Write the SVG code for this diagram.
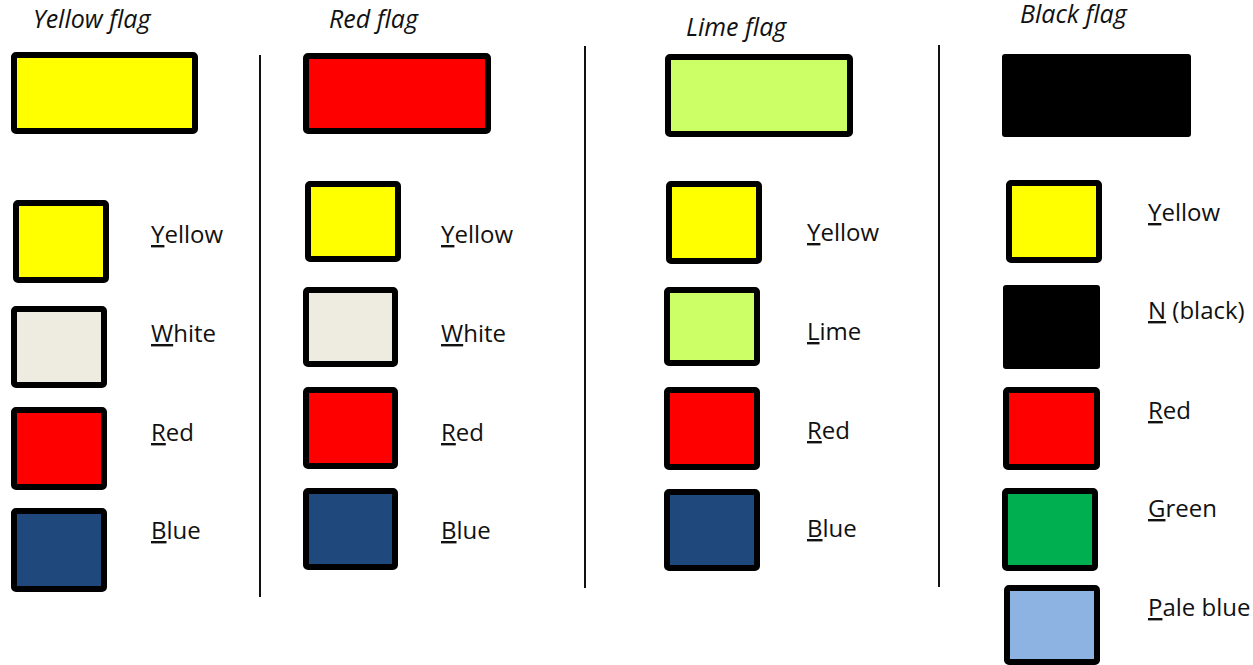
<svg xmlns="http://www.w3.org/2000/svg" width="1253" height="665" viewBox="0 0 1253 665">
<style>
.sw{stroke:#000;stroke-width:6;stroke-linejoin:round}
.t{font-family:"Open Sans","Liberation Sans",sans-serif;font-size:24px;fill:#111}
.h{font-family:"Open Sans","Liberation Sans",sans-serif;font-size:25px;font-style:italic;fill:#111}
.u{text-decoration:underline}
.div{stroke:#111;stroke-width:2}
</style>
<rect width="1253" height="665" fill="#fff"/>
<g id="dividers">
<line class="div" x1="260" y1="55" x2="260" y2="597"/>
<line class="div" x1="585" y1="46" x2="585" y2="588"/>
<line class="div" x1="939" y1="45" x2="939" y2="587"/>
</g>
<g id="col-yellow">
<text class="h" x="33" y="28">Yellow flag</text>
<rect class="sw" x="14" y="55" width="181" height="76" rx="2" fill="#FFFF00"/>
<rect class="sw" x="16" y="203" width="90" height="77" rx="2" fill="#FFFF00"/>
<rect class="sw" x="14" y="309" width="90" height="76" rx="2" fill="#EEECE1"/>
<rect class="sw" x="14" y="410" width="90" height="77" rx="2" fill="#FF0000"/>
<rect class="sw" x="14" y="511" width="90" height="78" rx="2" fill="#1F497D"/>
<text class="t" x="151" y="243"><tspan class="u">Y</tspan>ellow</text>
<text class="t" x="151" y="342"><tspan class="u">W</tspan>hite</text>
<text class="t" x="151" y="441"><tspan class="u">R</tspan>ed</text>
<text class="t" x="151" y="539"><tspan class="u">B</tspan>lue</text>
</g>
<g id="col-red">
<text class="h" x="329" y="28">Red flag</text>
<rect class="sw" x="306" y="56" width="182" height="75" rx="2" fill="#FF0000"/>
<rect class="sw" x="308" y="184" width="90" height="75" rx="2" fill="#FFFF00"/>
<rect class="sw" x="306" y="290" width="89" height="74" rx="2" fill="#EEECE1"/>
<rect class="sw" x="306" y="390" width="89" height="76" rx="2" fill="#FF0000"/>
<rect class="sw" x="306" y="491" width="89" height="76" rx="2" fill="#1F497D"/>
<text class="t" x="441" y="243"><tspan class="u">Y</tspan>ellow</text>
<text class="t" x="441" y="342"><tspan class="u">W</tspan>hite</text>
<text class="t" x="441" y="441"><tspan class="u">R</tspan>ed</text>
<text class="t" x="441" y="539"><tspan class="u">B</tspan>lue</text>
</g>
<g id="col-lime">
<text class="h" x="686" y="36">Lime flag</text>
<rect class="sw" x="668" y="57" width="182" height="77" rx="2" fill="#CCFF66"/>
<rect class="sw" x="669" y="184" width="90" height="77" rx="2" fill="#FFFF00"/>
<rect class="sw" x="667" y="290" width="90" height="73" rx="2" fill="#CCFF66"/>
<rect class="sw" x="667" y="390" width="90" height="77" rx="2" fill="#FF0000"/>
<rect class="sw" x="667" y="492" width="90" height="76" rx="2" fill="#1F497D"/>
<text class="t" x="807" y="241"><tspan class="u">Y</tspan>ellow</text>
<text class="t" x="807" y="340"><tspan class="u">L</tspan>ime</text>
<text class="t" x="807" y="439"><tspan class="u">R</tspan>ed</text>
<text class="t" x="807" y="537"><tspan class="u">B</tspan>lue</text>
</g>
<g id="col-black">
<text class="h" x="1020" y="23">Black flag</text>
<rect x="1002" y="54" width="189" height="83" rx="3" fill="#000"/>
<rect class="sw" x="1009" y="183" width="90" height="77" rx="2" fill="#FFFF00"/>
<rect x="1003" y="285" width="97" height="84" rx="3" fill="#000"/>
<rect class="sw" x="1006" y="390" width="91" height="77" rx="2" fill="#FF0000"/>
<rect class="sw" x="1005" y="491" width="90" height="77" rx="2" fill="#00B050"/>
<rect class="sw" x="1007" y="588" width="90" height="74" rx="2" fill="#8DB3E2"/>
<text class="t" x="1148" y="221"><tspan class="u">Y</tspan>ellow</text>
<text class="t" x="1148" y="319"><tspan class="u">N</tspan> (black)</text>
<text class="t" x="1148" y="419"><tspan class="u">R</tspan>ed</text>
<text class="t" x="1148" y="517"><tspan class="u">G</tspan>reen</text>
<text class="t" x="1148" y="616"><tspan class="u">P</tspan>ale blue</text>
</g>
</svg>
